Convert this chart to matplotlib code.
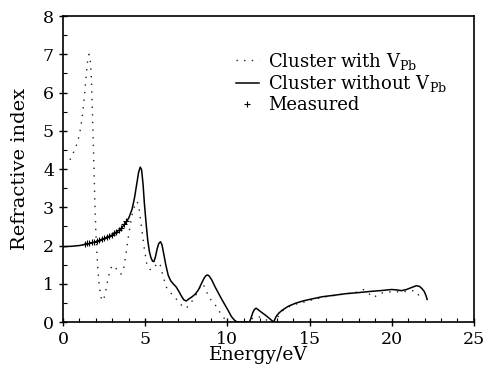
import numpy as np
import matplotlib
matplotlib.use('Agg')
import matplotlib.pyplot as plt
from matplotlib.ticker import MultipleLocator

plt.rcParams['font.family'] = 'DejaVu Serif'
plt.rcParams['mathtext.fontset'] = 'dejavuserif'

# cluster with V_Pb (dotted)
e_with = [0.42, 0.6, 0.8, 1.0, 1.15, 1.3, 1.4, 1.5, 1.58, 1.65, 1.72, 1.8, 1.87, 1.93, 2.0,
          2.1, 2.2, 2.3, 2.42, 2.55, 2.7, 2.85, 3.0, 3.15, 3.3, 3.5, 3.65, 3.8, 4.0, 4.2,
          4.4, 4.52, 4.65, 4.8, 4.95, 5.1, 5.27, 5.4, 5.55, 5.7, 5.85, 5.95, 6.07, 6.27,
          6.5, 6.8, 7.08, 7.3, 7.49, 7.7, 7.9, 8.1, 8.29, 8.49, 8.65, 8.8, 9.0, 9.2, 9.4,
          9.6, 9.8, 10.0, 10.2, 11.2, 11.4, 11.6, 11.9, 12.2, 12.6, 12.9, 13.1, 13.3, 13.54,
          14.0, 14.75, 15.3, 15.96, 16.6, 17.2, 17.8, 18.28, 18.6, 18.89, 19.29, 19.7, 20.0,
          20.4, 20.9, 21.3, 21.5, 21.7, 21.9]
n_with = [4.24, 4.4, 4.6, 4.9, 5.3, 5.9, 6.4, 6.85, 7.0, 6.9, 6.4, 5.3, 4.2, 3.2, 2.3,
          1.5, 0.95, 0.65, 0.55, 0.7, 1.05, 1.35, 1.48, 1.45, 1.35, 1.25, 1.3, 1.7, 2.3, 2.8,
          3.1, 3.15, 2.9, 2.4, 1.9, 1.5, 1.38, 1.36, 1.42, 1.52, 1.55, 1.45, 1.23, 0.92,
          0.78, 0.65, 0.5, 0.4, 0.36, 0.45, 0.58, 0.72, 0.88, 1.0, 0.9, 0.72, 0.58, 0.49, 0.35,
          0.22, 0.1, 0.02, 0.0, 0.0, 0.05, 0.12, 0.14, 0.08, 0.02, 0.0, 0.15, 0.27, 0.36,
          0.45, 0.53, 0.6, 0.66, 0.7, 0.74, 0.77, 0.85, 0.75, 0.64, 0.75, 0.78, 0.79,
          0.79, 0.8, 0.82, 0.8, 0.66, 0.62]

# cluster without V_Pb (solid)
e_wo = [0.0, 0.5, 1.0, 1.5, 2.0, 2.5, 3.0, 3.5, 3.8, 4.0, 4.2, 4.35, 4.5, 4.6, 4.7, 4.78,
        4.87, 4.95, 5.05, 5.15, 5.25, 5.35, 5.45, 5.53, 5.62, 5.72, 5.82, 5.93, 6.02, 6.12,
        6.25, 6.4, 6.55, 6.7, 6.88, 7.05, 7.2, 7.35, 7.49, 7.65, 7.85, 8.05, 8.25, 8.45,
        8.6, 8.72, 8.8, 8.9, 9.05, 9.25, 9.45, 9.65, 9.85, 10.05, 10.25, 10.45, 10.6,
        11.35, 11.45, 11.55, 11.65, 11.75, 11.85, 12.03, 12.25, 12.43, 12.65, 12.83, 12.88,
        12.95, 13.03, 13.15, 13.34, 13.7, 14.14, 14.6, 15.0, 15.76, 16.5, 17.2, 18.0, 18.7,
        19.3, 19.99, 20.3, 20.6, 20.9, 21.2, 21.5, 21.7, 21.85, 21.98, 22.08, 22.16]
n_wo = [1.97, 1.98, 2.0, 2.04, 2.1, 2.18, 2.28, 2.43, 2.58, 2.72, 2.95, 3.25, 3.65, 3.92, 4.05, 3.98,
        3.6, 3.1, 2.6, 2.15, 1.85, 1.68, 1.59, 1.58, 1.7, 1.9, 2.05, 2.10, 2.02, 1.8,
        1.5, 1.22, 1.08, 1.0, 0.92, 0.8, 0.68, 0.58, 0.55, 0.6, 0.66, 0.73, 0.85, 1.03,
        1.16, 1.22, 1.23, 1.2, 1.1, 0.92, 0.76, 0.6, 0.45, 0.3, 0.14, 0.04, 0.0,
        0.0, 0.12, 0.25, 0.33, 0.36, 0.33, 0.27, 0.2, 0.14, 0.06, 0.0, 0.06,
        0.13, 0.18, 0.24, 0.31, 0.41, 0.49, 0.55, 0.59, 0.66, 0.70, 0.74, 0.77, 0.8,
        0.82, 0.85, 0.84, 0.82, 0.85, 0.9, 0.95, 0.93, 0.87, 0.8, 0.7, 0.59]

# measured values
e_meas = [1.33, 1.45, 1.6, 1.75, 1.9, 2.05, 2.2, 2.35, 2.5, 2.65, 2.8, 2.95, 3.1, 3.25,
          3.4, 3.55, 3.7, 3.85]
n_meas = [2.05, 2.06, 2.07, 2.08, 2.1, 2.12, 2.14, 2.16, 2.19, 2.22, 2.25, 2.28, 2.32, 2.36,
          2.41, 2.47, 2.55, 2.65]

fig = plt.figure(figsize=(4.85, 3.74), dpi=100)
ax = fig.add_axes([0.130, 0.139, 0.847, 0.818])

ax.plot(e_with, n_with, color='#222222', linestyle=(0, (1, 4.5)), linewidth=1.0,
        label=r'Cluster with V$_{\mathrm{Pb}}$')
ax.plot(e_wo, n_wo, color='black', linestyle='-', linewidth=1.1,
        label=r'Cluster without V$_{\mathrm{Pb}}$')
ax.plot(e_meas, n_meas, color='black', linestyle='none', marker='+', markersize=4,
        markeredgewidth=0.8, label='Measured')

ax.set_xlim(0, 25)
ax.set_ylim(0, 8)
ax.xaxis.set_major_locator(MultipleLocator(5))
ax.xaxis.set_minor_locator(MultipleLocator(1))
ax.yaxis.set_major_locator(MultipleLocator(1))
ax.yaxis.set_minor_locator(MultipleLocator(0.5))
ax.tick_params(which='major', direction='inout', length=6, width=1.0, labelsize=12.5)
ax.tick_params(which='minor', direction='in', length=3, width=0.8)
for s in ax.spines.values():
    s.set_linewidth(1.2)

ax.set_xlabel('Energy/eV', fontsize=13.5)
ax.xaxis.set_label_coords(0.475, -0.08)
ax.set_ylabel('Refractive index', fontsize=14, labelpad=10)

ax.legend(loc='upper left', bbox_to_anchor=(0.42, 0.887), frameon=False, fontsize=13,
          handlelength=1.3, handletextpad=0.5, labelspacing=0.1, borderpad=0.0,
          borderaxespad=0.0)

fig.savefig('out.png', dpi=100)
